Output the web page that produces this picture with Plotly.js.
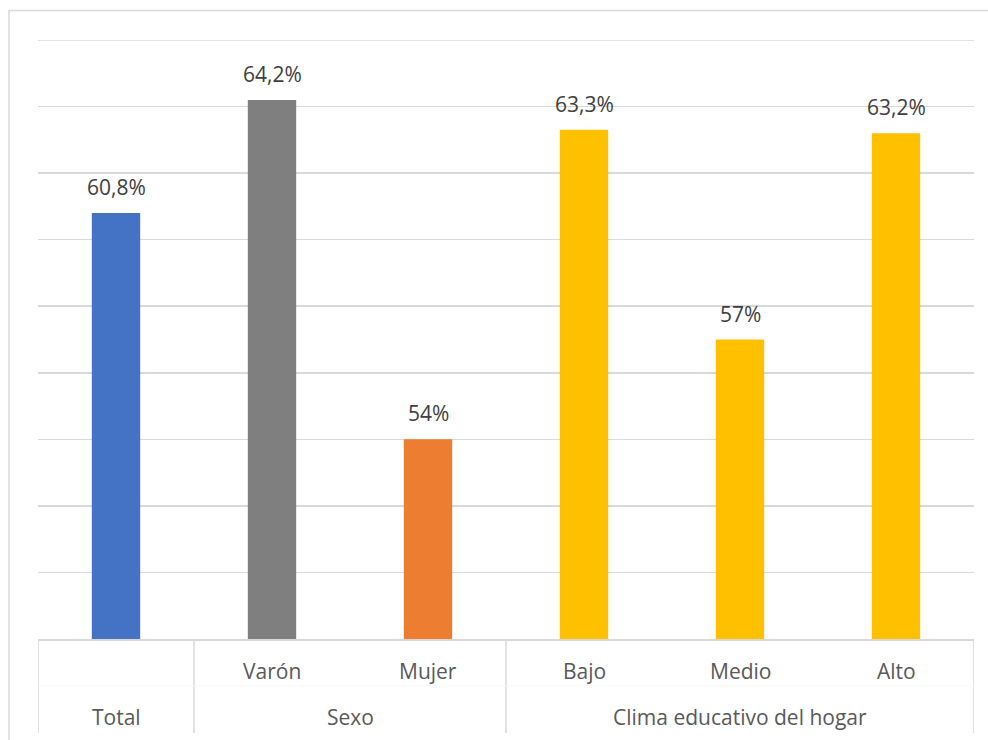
<!DOCTYPE html>
<html>
<head>
<meta charset="utf-8">
<script src="https://cdn.plot.ly/plotly-3.0.1.min.js"></script>
<style>
html,body{margin:0;padding:0;background:#fff;}
#chart{width:988px;height:740px;}
</style>
</head>
<body>
<div id="chart"></div>
<script>
const subLabels = ["", "Varón", "Mujer", "Bajo", "Medio", "Alto"];
const groupLabels = ["Total", "Sexo", "Clima educativo del hogar"];
const groupSpans = [[0, 0], [1, 2], [3, 5]];
const values = [60.8, 64.2, 54, 63.3, 57, 63.2];
const valueLabels = ["60,8%", "64,2%", "54%", "63,3%", "57%", "63,2%"];
const barColors = ["#4472C4", "#7F7F7F", "#ED7D31", "#FFC000", "#FFC000", "#FFC000"];
const yMin = 48, yMax = 66, yStep = 2;

const idx = subLabels.map((_, i) => i);
const txtColor = "#595959";
const lineColor = "#D9D9D9";
const font = "'Open Sans', 'Noto Sans', sans-serif";
const fs = 21;

const annotations = [];
values.forEach((v, i) => {
  annotations.push({x: i, y: v, xref: "x", yref: "y", text: valueLabels[i], showarrow: false,
    yanchor: "middle", yshift: 26, font: {family: font, size: fs, color: "#404040"}});
  if (subLabels[i]) annotations.push({x: i, y: -0.053, xref: "x", yref: "paper", text: subLabels[i],
    showarrow: false, yanchor: "middle", font: {family: font, size: fs, color: txtColor}});
});
groupSpans.forEach((s, g) => {
  annotations.push({x: (s[0] + s[1]) / 2, y: -0.130, xref: "x", yref: "paper", text: groupLabels[g],
    showarrow: false, yanchor: "middle", font: {family: font, size: fs, color: txtColor}});
});

const shapes = [];
const bottom = -(733 - 639) / 599;
const dividers = [-0.5].concat(groupSpans.map(s => s[1] + 0.5));
dividers.forEach(d => shapes.push({type: "line", xref: "x", yref: "paper", x0: d, x1: d, y0: 0, y1: bottom,
  line: {color: lineColor, width: 1.5}}));
shapes.push({type: "line", xref: "x", yref: "paper", x0: -0.5, x1: 5.5, y0: -(686 - 639) / 599, y1: -(686 - 639) / 599,
  line: {color: "#FAFAFA", width: 1}});
// top gridline
shapes.push({type: "line", xref: "paper", yref: "y", x0: 0, x1: 1, y0: yMax, y1: yMax,
  line: {color: lineColor, width: 1.5}});
// outer chart frame
shapes.push({type: "rect", xref: "paper", yref: "paper", x0: (9 - 38) / 936, x1: 1.2, y0: -0.5, y1: (639 - 10.5) / 599,
  line: {color: lineColor, width: 1.5}, fillcolor: "rgba(0,0,0,0)"});

const trace = {
  type: "bar", x: idx, y: values,
  marker: {color: barColors, line: {width: 0}},
  hoverinfo: "skip"
};

const layout = {
  width: 988, height: 740,
  margin: {l: 38, r: 14, t: 40, b: 101, pad: 0},
  paper_bgcolor: "#fff", plot_bgcolor: "#fff",
  showlegend: false,
  bargap: 0.69,
  xaxis: {range: [-0.5, 5.5], showticklabels: false, ticks: "", showgrid: false, zeroline: false,
    showline: true, linecolor: lineColor, linewidth: 1.5, fixedrange: true},
  yaxis: {range: [yMin, yMax], dtick: yStep, tick0: yMin, showticklabels: false, ticks: "", showgrid: true,
    gridcolor: lineColor, gridwidth: 1.5, zeroline: false, showline: false, fixedrange: true},
  annotations: annotations,
  shapes: shapes
};

Plotly.newPlot("chart", [trace], layout, {displayModeBar: false, staticPlot: true});
</script>
</body>
</html>
